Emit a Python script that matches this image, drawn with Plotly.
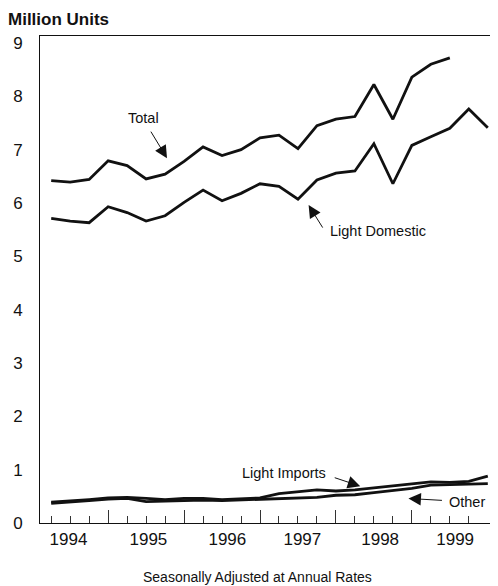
import plotly.graph_objects as go

# quarterly index: 0 = 1994 Q1 ... 23 = 1999 Q4
quarters = list(range(24))
years = ["1994", "1995", "1996", "1997", "1998", "1999"]
year_pos = [0.91, 5.12, 9.28, 13.23, 17.33, 21.28]

total = [6.42, 6.39, 6.44, 6.79, 6.70, 6.45, 6.54, 6.78, 7.05, 6.89, 7.00,
         7.22, 7.27, 7.02, 7.45, 7.57, 7.62, 8.22, 7.57, 8.36, 8.60, 8.72]
light_domestic = [5.71, 5.66, 5.63, 5.93, 5.82, 5.66, 5.76, 6.01, 6.24, 6.04,
                  6.18, 6.36, 6.31, 6.07, 6.43, 6.56, 6.60, 7.11, 6.36, 7.08,
                  7.24, 7.40, 7.76, 7.41]
light_imports = [0.39, 0.41, 0.44, 0.47, 0.48, 0.46, 0.44, 0.46, 0.46, 0.44,
                 0.45, 0.47, 0.55, 0.58, 0.62, 0.60, 0.62, 0.66, 0.70, 0.73,
                 0.77, 0.76, 0.78, 0.88]
other = [0.37, 0.39, 0.42, 0.45, 0.46, 0.40, 0.41, 0.42, 0.43, 0.42, 0.43,
         0.45, 0.46, 0.46, 0.48, 0.52, 0.53, 0.57, 0.61, 0.65, 0.71, 0.72,
         0.74, 0.74]

INK = "#111111"
FONT = "Liberation Sans"

fig = go.Figure()
for vals in [total, light_domestic, light_imports, other]:
    fig.add_trace(go.Scatter(x=quarters[:len(vals)], y=vals, mode="lines",
                             line=dict(color=INK, width=2.8), showlegend=False,
                             hoverinfo="skip"))
# empty trace so the overlaid label axis gets drawn
fig.add_trace(go.Scatter(x=[], y=[], xaxis="x2", showlegend=False))

# page body adds an 8px margin, so the figure is 8px smaller each way
fig.update_layout(
    width=490, height=578,
    margin=dict(l=32, r=3, t=28, b=63),
    paper_bgcolor="white", plot_bgcolor="white",
    font=dict(family=FONT, size=17, color=INK),
    title=dict(text="Million Units", x=0.0, xanchor="left",
               y=0.981, yanchor="middle",
               font=dict(family=FONT, size=17, color=INK, weight="bold")),
    xaxis=dict(range=[-0.59, 23.38], showgrid=False, zeroline=False,
               showline=True, linecolor=INK, linewidth=1, mirror=True,
               tickmode="array", tickvals=[3, 7, 11, 15, 19],
               ticks="inside", ticklen=13, tickcolor="#333", tickwidth=1,
               showticklabels=False,
               minor=dict(tickmode="array", tickvals=list(range(23)),
                          ticks="inside", ticklen=7, tickcolor="#333",
                          tickwidth=1)),
    xaxis2=dict(overlaying="x", matches="x", anchor="y", side="bottom",
                showgrid=False, zeroline=False, showline=False,
                tickmode="array", tickvals=year_pos,
                ticktext=years, ticks="", ticklabelstandoff=4,
                tickfont=dict(family=FONT, size=17, color=INK)),
    yaxis=dict(range=[0, 9.13], showgrid=False, zeroline=False,
               showline=True, linecolor=INK, linewidth=1, mirror=True,
               tickmode="array", tickvals=list(range(10)), ticks="",
               ticklabelstandoff=13,
               tickfont=dict(family=FONT, size=17, color=INK)),
)

arrow = dict(showarrow=True, arrowhead=2, arrowsize=2.5, arrowwidth=1,
             arrowcolor=INK, text="", xref="x", yref="y")
label = dict(showarrow=False, xref="x", yref="y",
             font=dict(family=FONT, size=14.5, color=INK))

fig.add_annotation(x=6.1, y=6.84, ax=-17, ay=-28, **arrow)
fig.add_annotation(x=4.86, y=7.59, text="Total", **label)

fig.add_annotation(x=13.56, y=5.96, ax=15, ay=24, **arrow)
fig.add_annotation(x=14.59, y=5.48, text="Light Domestic", xanchor="left", **label)

fig.add_annotation(x=16.28, y=0.69, ax=-27, ay=-9, **arrow)
fig.add_annotation(x=14.6, y=0.93, text="Light Imports", xanchor="right", **label)

fig.add_annotation(x=18.82, y=0.46, ax=35, ay=2, **arrow)
fig.add_annotation(x=20.84, y=0.40, text="Other", xanchor="left", **label)

fig.add_annotation(x=0.4786, y=-0.110, xref="paper", yref="paper",
                   text="Seasonally Adjusted at Annual Rates", showarrow=False,
                   yanchor="middle", font=dict(family=FONT, size=14, color=INK))

fig.write_html("out.html")
